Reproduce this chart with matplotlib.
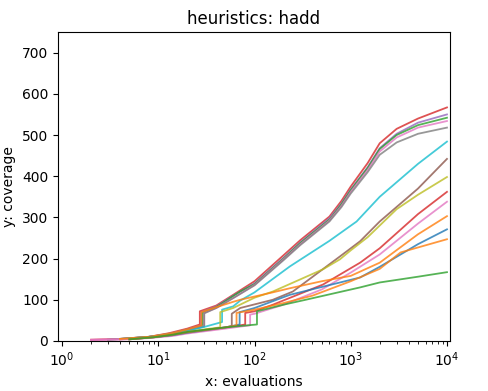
import matplotlib
matplotlib.use("Agg")
import matplotlib.pyplot as plt

# evaluations (x) and coverage (y), one list pair per run group
red_top_x = [2, 4, 8, 13, 20, 27, 27, 40, 60, 100, 200, 300, 600, 800, 1000, 1500, 2000, 3000, 5000, 10000]
red_top_y = [3, 5, 10, 19, 30, 40, 72, 86, 112, 145, 208, 245, 302, 340, 375, 432, 480, 515, 540, 567]

purple_top_x = [3, 5, 9, 14, 20, 28, 28, 40, 60, 100, 200, 300, 600, 800, 1000, 1500, 2000, 3000, 5000, 10000]
purple_top_y = [3, 6, 11, 19, 28, 38, 70, 84, 110, 140, 202, 240, 298, 334, 368, 422, 468, 503, 530, 550]

green_top_x = [3, 5, 9, 14, 20, 29, 29, 40, 71, 100, 200, 300, 610, 800, 1000, 1500, 2000, 3000, 5000, 10000]
green_top_y = [3, 6, 11, 18, 27, 36, 68, 82, 120, 138, 200, 238, 296, 332, 366, 420, 466, 500, 524, 542]

pink_top_x = [2, 4, 8, 13, 20, 30, 30, 40, 60, 100, 200, 300, 600, 800, 1000, 1500, 2000, 3000, 5000, 10000]
pink_top_y = [3, 5, 10, 17, 26, 36, 68, 80, 104, 136, 198, 235, 292, 328, 362, 415, 460, 494, 518, 534]

gray_top_x = [4, 8, 14, 20, 30, 30, 40, 60, 100, 200, 300, 600, 800, 1000, 1500, 2000, 3000, 5000, 10000]
gray_top_y = [5, 10, 18, 26, 35, 67, 80, 104, 135, 196, 233, 290, 325, 358, 410, 452, 482, 503, 518]

cyan_x = [4, 8, 14, 20, 30, 46, 46, 60, 71, 100, 233, 600, 1150, 2000, 5000, 10000]
cyan_y = [5, 10, 17, 24, 34, 46, 76, 84, 98, 118, 181, 243, 290, 350, 430, 484]

brown_x = [4, 8, 14, 20, 30, 50, 58, 58, 71, 155, 250, 770, 1250, 2000, 5000, 10000]
brown_y = [4, 9, 15, 21, 27, 33, 36, 66, 80, 100, 120, 205, 242, 290, 370, 442]

olive_x = [4, 8, 14, 20, 30, 44, 44, 60, 100, 155, 515, 770, 1000, 1500, 3000, 5000, 10000]
olive_y = [4, 9, 15, 22, 28, 33, 70, 80, 105, 120, 174, 198, 220, 252, 320, 355, 398]

red_low_x = [5, 9, 14, 20, 50, 80, 80, 100, 155, 515, 1250, 2000, 5000, 10000]
red_low_y = [4, 9, 14, 20, 32, 40, 68, 72, 88, 137, 190, 225, 308, 362]

pink_low_x = [2, 4, 8, 14, 20, 50, 90, 90, 100, 200, 500, 1000, 2000, 5000, 10000]
pink_low_y = [2, 3, 7, 12, 18, 30, 38, 64, 66, 88, 125, 166, 210, 285, 338]

orange_x = [4, 8, 14, 20, 28, 28, 40, 60, 71, 155, 233, 500, 1000, 2000, 5000, 10000]
orange_y = [5, 10, 19, 28, 38, 70, 82, 95, 100, 118, 128, 145, 158, 190, 259, 303]

blue_x = [5, 9, 14, 20, 50, 70, 70, 100, 233, 1250, 2000, 5000, 10000]
blue_y = [4, 9, 14, 20, 33, 40, 70, 80, 112, 154, 180, 235, 271]

orange_low_x = [5, 9, 14, 20, 50, 65, 65, 100, 200, 400, 1000, 2000, 3300, 10000]
orange_low_y = [4, 9, 15, 21, 33, 38, 68, 76, 92, 110, 145, 175, 215, 247]

green_low_x = [5, 9, 14, 20, 50, 106, 106, 200, 340, 1250, 2000, 5000, 10000]
green_low_y = [4, 9, 15, 22, 33, 40, 72, 88, 100, 130, 142, 156, 167]

series = [
    (red_top_x, red_top_y, "tab:red"),
    (purple_top_x, purple_top_y, "tab:purple"),
    (green_top_x, green_top_y, "tab:green"),
    (pink_top_x, pink_top_y, "tab:pink"),
    (gray_top_x, gray_top_y, "tab:gray"),
    (cyan_x, cyan_y, "tab:cyan"),
    (brown_x, brown_y, "tab:brown"),
    (olive_x, olive_y, "tab:olive"),
    (red_low_x, red_low_y, "tab:red"),
    (pink_low_x, pink_low_y, "tab:pink"),
    (orange_x, orange_y, "tab:orange"),
    (blue_x, blue_y, "tab:blue"),
    (orange_low_x, orange_low_y, "tab:orange"),
    (green_low_x, green_low_y, "tab:green"),
]

fig = plt.figure(figsize=(4.88, 3.91), dpi=100)
ax = fig.add_axes([0.119, 0.128, 0.803, 0.79])

for xs, ys, color in series:
    ax.plot(xs, ys, color=color, linewidth=1.3, alpha=0.8)

ax.set_xscale("log")
ax.set_xlim(10 ** -0.042, 10 ** 4.031)
ax.set_ylim(0, 750)
ax.set_yticks(range(0, 701, 100))
ax.set_xlabel("x: evaluations")
ax.set_ylabel("y: coverage")
ax.set_title("heuristics: hadd")

fig.savefig("out.png", dpi=100)
